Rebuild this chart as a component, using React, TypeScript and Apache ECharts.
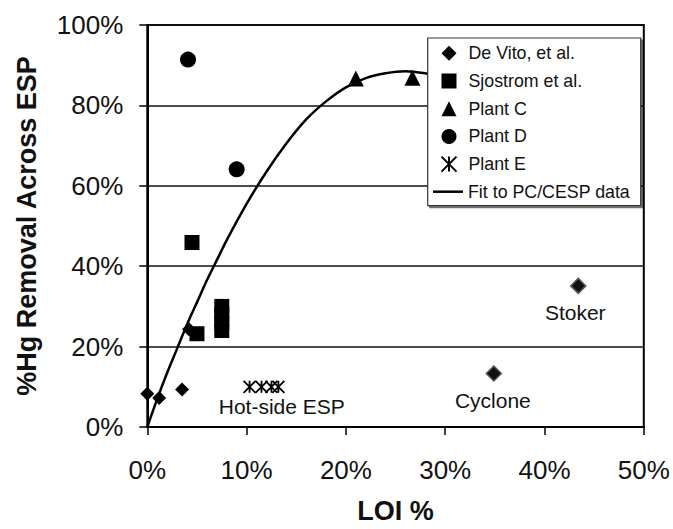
import React, { useEffect, useRef } from "react";
import * as echarts from "echarts";

// ---- data (LOI %, %Hg removal) ----
const xTicks = [0, 10, 20, 30, 40, 50];
const yTicks = [0, 20, 40, 60, 80, 100];

const deVitoX = [0, 1.2, 3.5, 4.2];
const deVitoY = [8.3, 7.2, 9.3, 24.3];

const otherNames = ["Cyclone", "Stoker"];
const otherX = [34.9, 43.4];
const otherY = [13.3, 35.1];

const sjostromX = [4.5, 5.0, 7.5, 7.5, 7.5, 7.5];
const sjostromY = [45.9, 23.2, 30, 28, 26, 24];

const plantCX = [21.0, 26.7];
const plantCY = [86.7, 86.9];

const plantDX = [4.1, 9.0];
const plantDY = [91.4, 64.1];

const plantEX = [10.3, 11.5, 12.5, 13.2];
const plantEY = [10, 10, 10, 10];
const plantELabel = "Hot-side ESP";

const fitX = [0, 1, 2, 3, 4, 5, 6, 7, 8, 10, 12, 14, 16, 18, 20, 22, 24, 26, 28, 28.5];
const fitY = [0, 7, 13.5, 19.5, 25.5, 31, 36.5, 41.5, 46.5, 55.5, 63.5, 70.5, 76.5, 81, 84.5, 86.8, 88, 88.5, 88, 87.6];

const FONT = "'Liberation Sans', Arial, sans-serif";
const zip = (xs: number[], ys: number[]) => xs.map((x, i) => [x, ys[i]]);
const starPath = "path://M0,0L10,10M10,0L0,10M5,0L5,10";

export default function App() {
  const ref = useRef<HTMLDivElement>(null);
  useEffect(() => {
    if (!ref.current) return;
    const chart = echarts.init(ref.current, undefined, { renderer: "svg" });
    const annLabel = {
      show: true,
      position: "bottom",
      fontSize: 21,
      lineHeight: 22,
      fontFamily: FONT,
      color: "#111",
    };
    const legendText = { fontSize: 17.8, lineHeight: 20, fontFamily: FONT, color: "#111" };
    chart.setOption({
      animation: false,
      backgroundColor: "#fff",
      grid: {
        left: 147.3,
        top: 25,
        right: 29.2,
        bottom: 97,
        show: true,
        borderColor: "#000",
        borderWidth: 2,
      },
      xAxis: {
        type: "value",
        min: xTicks[0],
        max: xTicks[xTicks.length - 1],
        interval: 10,
        name: "LOI %",
        nameLocation: "middle",
        nameGap: 70,
        nameTextStyle: { fontSize: 27, fontWeight: "bold", fontFamily: FONT, color: "#111" },
        axisLine: { lineStyle: { color: "#000", width: 2 } },
        axisTick: { inside: false, length: 8, lineStyle: { color: "#000", width: 1.5 } },
        axisLabel: { formatter: "{value}%", fontSize: 26, fontFamily: FONT, color: "#111", margin: 30 },
        splitLine: { show: false },
      },
      yAxis: {
        type: "value",
        min: yTicks[0],
        max: yTicks[yTicks.length - 1],
        interval: 20,
        name: "%Hg Removal Across ESP",
        nameLocation: "middle",
        nameGap: 107,
        nameTextStyle: { fontSize: 27, fontWeight: "bold", fontFamily: FONT, color: "#111" },
        axisLine: { lineStyle: { color: "#000", width: 2 } },
        axisTick: { inside: false, length: 8, lineStyle: { color: "#000", width: 1.5 } },
        axisLabel: { formatter: "{value}%", fontSize: 26, fontFamily: FONT, color: "#111", margin: 24 },
        splitLine: { show: true, lineStyle: { color: "#111", width: 1.5 } },
      },
      graphic: [
        {
          type: "rect",
          z: 3,
          shape: { x: 427.7, y: 38, width: 213, height: 167.7 },
          style: {
            fill: "#fff",
            stroke: "#333",
            lineWidth: 1.2,
            shadowColor: "rgba(0,0,0,0.55)",
            shadowOffsetX: 2,
            shadowOffsetY: 2,
            shadowBlur: 0,
          },
        },
      ],
      legend: [
        {
          data: [
            { name: "De Vito, et al.", icon: "diamond" },
            { name: "Sjostrom et al.", icon: "rect" },
            { name: "Plant C", icon: "triangle" },
            { name: "Plant D", icon: "circle" },
            { name: "Plant E", icon: starPath },
          ],
          orient: "vertical",
          left: 440.5,
          top: 43.3,
          padding: 0,
          itemWidth: 15,
          itemHeight: 15,
          itemGap: 7.7,
          symbolKeepAspect: true,
          z: 5,
          textStyle: { ...legendText, padding: [0, 0, 0, 7] },
        },
        {
          data: [{ name: "Fit to PC/CESP data", icon: "rect" }],
          orient: "vertical",
          left: 433,
          top: 181.7,
          padding: 0,
          itemWidth: 30,
          itemHeight: 2.5,
          z: 5,
          textStyle: legendText,
        },
      ],
      series: [
        {
          name: "Fit to PC/CESP data",
          type: "line",
          smooth: 0.3,
          symbol: "none",
          showSymbol: false,
          data: zip(fitX, fitY),
          lineStyle: { color: "#000", width: 2.5 },
          itemStyle: { color: "#000" },
          z: 2,
        },
        {
          name: "De Vito, et al.",
          type: "scatter",
          symbol: "diamond",
          symbolSize: 14,
          data: zip(deVitoX, deVitoY),
          itemStyle: { color: "#000", opacity: 1 },
          z: 2,
        },
        {
          name: "Other boilers",
          type: "scatter",
          symbol: "diamond",
          symbolSize: 15,
          data: otherNames.map((n, i) => ({
            name: n,
            value: [otherX[i], otherY[i]],
            label: {
              ...annLabel,
              formatter: n,
              distance: n === "Stoker" ? 7 : 8,
              offset: n === "Stoker" ? [-3, 0] : [-1, 0],
            },
          })),
          itemStyle: { color: "#111", borderColor: "#555", borderWidth: 1.5, opacity: 1 },
          z: 2,
        },
        {
          name: "Sjostrom et al.",
          type: "scatter",
          symbol: "rect",
          symbolSize: 15,
          data: zip(sjostromX, sjostromY),
          itemStyle: { color: "#000", opacity: 1 },
          z: 2,
        },
        {
          name: "Plant C",
          type: "scatter",
          symbol: "triangle",
          symbolSize: 16,
          data: zip(plantCX, plantCY),
          itemStyle: { color: "#000", opacity: 1 },
          z: 2,
        },
        {
          name: "Plant D",
          type: "scatter",
          symbol: "circle",
          symbolSize: 16,
          data: zip(plantDX, plantDY),
          itemStyle: { color: "#000", opacity: 1 },
          z: 2,
        },
        {
          name: "Plant E",
          type: "scatter",
          symbol: starPath,
          symbolSize: 12,
          data: plantEX.map((x, i) => {
            const item: any = { value: [x, plantEY[i]] };
            if (i === plantEX.length - 1) {
              item.label = { ...annLabel, formatter: plantELabel, distance: 2, offset: [3.4, 0] };
            }
            return item;
          }),
          itemStyle: { color: "#000", borderColor: "#000", borderWidth: 1.8, opacity: 1 },
          z: 2,
        },
      ],
    });
    return () => chart.dispose();
  }, []);
  return <div ref={ref} style={{ width: 673, height: 529, position: "absolute", left: 0, top: 0 }} />;
}
